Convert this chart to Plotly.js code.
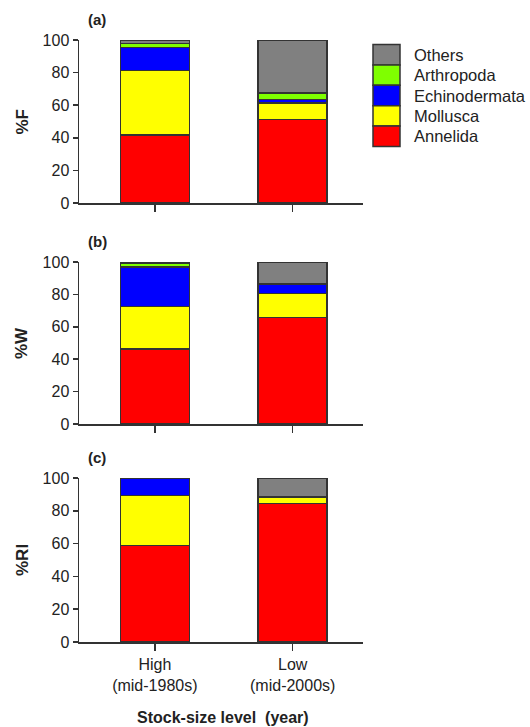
<!DOCTYPE html>
<html>
<head>
<meta charset="utf-8">
<script src="https://cdn.plot.ly/plotly-3.0.1.min.js"></script>
<style>html,body{margin:0;padding:0;background:#fff;}</style>
</head>
<body>
<div id="chart" style="width:530px;height:727px;"></div>
<script>
// ---- data ----
const categories = ['High', 'Low'];
const tickLabels = ['High<br>(mid-1980s)', 'Low<br>(mid-2000s)'];
const taxa = ['Annelida', 'Mollusca', 'Echinodermata', 'Arthropoda', 'Others'];
const taxaColors = ['#FF0000', '#FFFF00', '#0000FF', '#7FFF00', '#808080'];
const panelLabels = ['(a)', '(b)', '(c)'];
const yTitles = ['%F', '%W', '%RI'];
const yTickVals = [0, 20, 40, 60, 80, 100];

// segment values (stacked), order: High, Low
const F_Annelida      = [41.7, 51.3];
const F_Mollusca      = [39.7, 10.2];
const F_Echinodermata = [14.1, 2.1];
const F_Arthropoda    = [2.5, 3.9];
const F_Others        = [2.0, 32.5];

const W_Annelida      = [46.3, 65.6];
const W_Mollusca      = [26.1, 14.9];
const W_Echinodermata = [24.5, 6.0];
const W_Arthropoda    = [2.3, 0];
const W_Others        = [0.8, 13.5];

const RI_Annelida      = [58.7, 84.5];
const RI_Mollusca      = [30.7, 4.0];
const RI_Echinodermata = [10.6, 0];
const RI_Arthropoda    = [0, 0];
const RI_Others        = [0, 11.5];

const panels = [
  [F_Annelida, F_Mollusca, F_Echinodermata, F_Arthropoda, F_Others],
  [W_Annelida, W_Mollusca, W_Echinodermata, W_Arthropoda, W_Others],
  [RI_Annelida, RI_Mollusca, RI_Echinodermata, RI_Arthropoda, RI_Others]
];

// ---- layout geometry (pixels) ----
const W = 530, H = 727;
const xLeft = 79, xRight = 363;
const yPix = [[40, 203], [262, 424], [478, 642]]; // [top(100), bottom(0)]
const px = v => v / W;
const py = v => 1 - v / H;

const FONT = 'Liberation Sans, Arial, sans-serif';
const INK = '#222';
const LINE = '#333';

const traces = [];
panels.forEach((series, p) => {
  const xa = p === 0 ? 'x' : 'x' + (p + 1);
  const ya = p === 0 ? 'y' : 'y' + (p + 1);
  series.forEach((vals, i) => {
    traces.push({
      type: 'bar',
      x: categories,
      y: vals,
      name: taxa[i],
      xaxis: xa, yaxis: ya,
      width: 0.5,
      cliponaxis: false,
      marker: {color: taxaColors[i], line: {color: LINE, width: 1.5}},
      showlegend: false,
      hoverinfo: 'skip'
    });
  });
});

const layout = {
  width: W, height: H,
  margin: {l: 0, r: 0, t: 0, b: 0},
  paper_bgcolor: '#fff', plot_bgcolor: 'rgba(0,0,0,0)',
  barmode: 'stack',
  showlegend: false,
  font: {family: FONT, color: INK, size: 16},
  shapes: [],
  annotations: []
};

for (let p = 0; p < 3; p++) {
  const sfx = p === 0 ? '' : String(p + 1);
  const ya = p === 0 ? 'y' : 'y' + (p + 1);
  const xa = p === 0 ? 'x' : 'x' + (p + 1);
  layout['xaxis' + sfx] = {
    domain: [px(xLeft), px(xRight)],
    anchor: ya,
    type: 'category',
    range: [-0.55, 1.51],
    tickvals: categories,
    ticktext: tickLabels,
    showticklabels: p === 2,
    ticks: 'outside', ticklen: 7, tickwidth: 1.5, tickcolor: LINE,
    showline: true, linecolor: LINE, linewidth: 1.5,
    showgrid: false, zeroline: false,
    tickfont: {family: FONT, size: 16, color: INK},
    fixedrange: true
  };
  layout['yaxis' + sfx] = {
    domain: [py(yPix[p][1]), py(yPix[p][0])],
    anchor: xa,
    range: [0, 100],
    tickvals: yTickVals,
    ticks: 'outside', ticklen: 5, tickwidth: 1.5, tickcolor: LINE,
    showline: true, linecolor: LINE, linewidth: 1.5,
    showgrid: false, zeroline: false,
    tickfont: {family: FONT, size: 16, color: INK},
    fixedrange: true
  };
  // panel label
  layout.annotations.push({
    xref: 'paper', yref: 'paper',
    x: px(86), y: py(yPix[p][0] - 21),
    xanchor: 'left', yanchor: 'middle',
    text: '<b>' + panelLabels[p] + '</b>',
    showarrow: false,
    font: {family: FONT, size: 15, color: INK}
  });
  // y title
  layout.annotations.push({
    xref: 'paper', yref: 'paper',
    x: px(22), y: py((yPix[p][0] + yPix[p][1]) / 2),
    xanchor: 'center', yanchor: 'middle',
    textangle: -90,
    text: '<b>' + yTitles[p] + '</b>',
    showarrow: false,
    font: {family: FONT, size: 17, color: INK}
  });
}

// x title
layout.annotations.push({
  xref: 'paper', yref: 'paper',
  x: px(223), y: py(717),
  xanchor: 'center', yanchor: 'middle',
  text: '<b>Stock-size level  (year)</b>',
  showarrow: false,
  font: {family: FONT, size: 16, color: INK}
});

// legend (top to bottom: Others ... Annelida)
const legTop = 44.5, legRow = 20.4, legX0 = 373, legX1 = 400, legTextX = 412;
for (let k = 0; k < taxa.length; k++) {
  const i = taxa.length - 1 - k;
  const y0 = legTop + k * legRow, y1 = y0 + legRow;
  layout.shapes.push({
    type: 'rect', xref: 'paper', yref: 'paper',
    x0: px(legX0), x1: px(legX1), y0: py(y1), y1: py(y0),
    fillcolor: taxaColors[i],
    line: {color: LINE, width: 1.5}
  });
  layout.annotations.push({
    xref: 'paper', yref: 'paper',
    x: px(legTextX), y: py((y0 + y1) / 2),
    xanchor: 'left', yanchor: 'middle',
    text: taxa[i],
    showarrow: false,
    font: {family: FONT, size: 16.5, color: INK}
  });
}

Plotly.newPlot('chart', traces, layout, {displayModeBar: false, staticPlot: true});
</script>
</body>
</html>
